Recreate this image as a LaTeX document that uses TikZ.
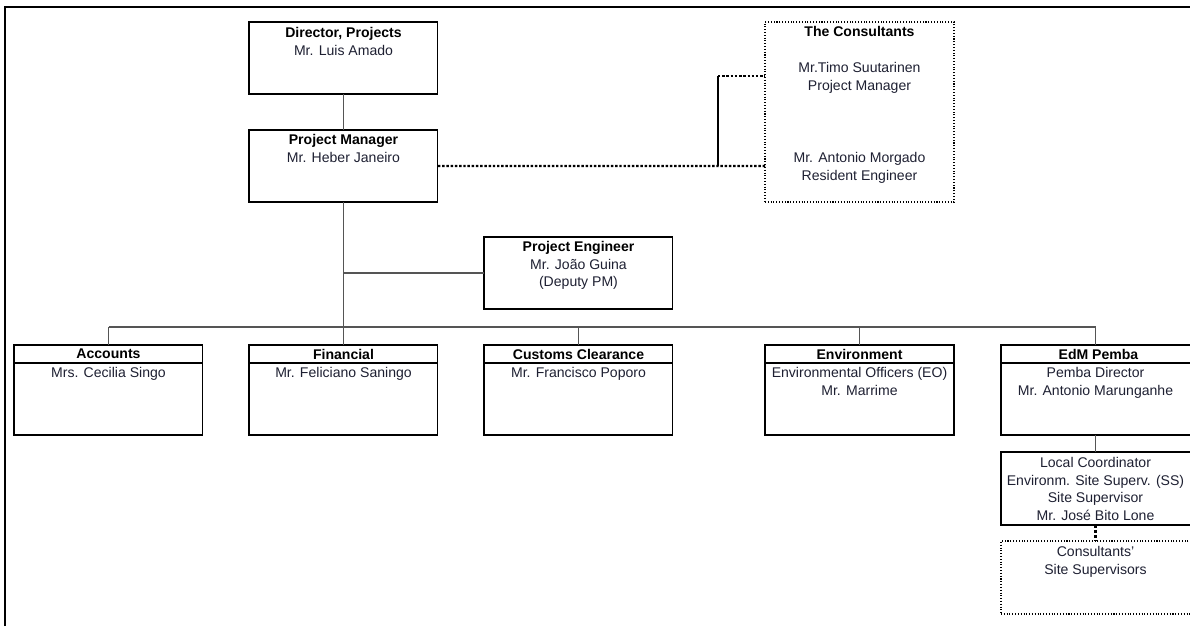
\documentclass[tikz,border=0pt]{standalone}
\usepackage{fontspec}
\setmainfont{Liberation Sans}
\definecolor{namecol}{RGB}{30,32,50}
\definecolor{linkcol}{RGB}{85,85,85}

\begin{document}
\begin{tikzpicture}[x=0.02cm, y=-0.02cm,
    box_style/.style={draw=black, line width=0.6pt, inner sep=0pt, outer sep=0pt,
        minimum width=3.78cm, minimum height=1.44cm},
    head_style/.style={box_style, minimum height=0.36cm,
        font=\fontsize{8}{10}\selectfont\bfseries},
    dotbox_style/.style={box_style, densely dotted, line width=1.4pt},
    text_style/.style={anchor=north, inner sep=0pt, align=center, text=namecol,
        font=\fontsize{8}{10}\selectfont},
    link_style/.style={draw=linkcol, line width=1pt},
    dot_style/.style={draw=black, densely dotted, line width=1.4pt}]

    \useasboundingbox (0,0) rectangle (1190,626);
    \clip (0,0) rectangle (1190,626);
    \draw[line width=1.5pt] (5,626) -- (5,7) -- (1190,7);

    % upper boxes
    \node[box_style, anchor=north west] (dir) at (249,22) {};
    \node[box_style, anchor=north west] (pm) at (249,130) {};
    \node[box_style, anchor=north west] (pe) at (484,237) {};
    \node[dotbox_style, anchor=north west, minimum height=3.6cm] (cons) at (765,22) {};

    \node[text_style] (dir_t) at (343.5,27) {\textcolor{black}{\textbf{Director, Projects}}\\Mr. Luis Amado};
    \node[text_style] (pm_t) at (343.5,134) {\textcolor{black}{\textbf{Project Manager}}\\Mr. Heber Janeiro};
    \node[text_style] (pe_t) at (578.5,241) {\textcolor{black}{\textbf{Project Engineer}}\\Mr. João Guina\\(Deputy PM)};
    \node[text_style] (cons_t) at (859.5,26) {\textcolor{black}{\textbf{The Consultants}}};
    \node[text_style] (timo_t) at (859.5,62) {Mr.Timo Suutarinen\\Project Manager};
    \node[text_style] (anto_t) at (859.5,152) {Mr. Antonio Morgado\\Resident Engineer};

    % lower row
    \node[head_style, anchor=north west] (acc) at (14,345) {Accounts};
    \node[head_style, anchor=north west] (fin) at (249,345) {Financial};
    \node[head_style, anchor=north west] (cus) at (484,345) {Customs Clearance};
    \node[head_style, anchor=north west] (env) at (765,345) {Environment};
    \node[head_style, anchor=north west, minimum width=3.9cm] (edm) at (1001,345) {EdM Pemba};
    \foreach \n in {acc,fin,cus,env}
        \node[box_style, anchor=north] (\n_b) at (\n.south) {};
    \node[box_style, anchor=north, minimum width=3.9cm] (edm_b) at (edm.south) {};

    \node[text_style] (acc_t) at (108.5,367) {Mrs. Cecilia Singo};
    \node[text_style] (fin_t) at (343.5,367) {Mr. Feliciano Saningo};
    \node[text_style] (cus_t) at (578.5,367) {Mr. Francisco Poporo};
    \node[text_style] (env_t) at (859.5,367) {Environmental Officers (EO)\\Mr. Marrime};
    \node[text_style] (edm_t) at (1095.5,367) {Pemba Director\\Mr. Antonio Marunganhe};

    % Pemba column
    \node[box_style, anchor=north west, minimum width=3.9cm, minimum height=1.46cm] (loc) at (1001,452) {};
    \node[dotbox_style, anchor=north west, minimum width=3.9cm, minimum height=1.46cm] (site) at (1001,541) {};
    \node[text_style] (loc_t) at (1095.5,457) {Local Coordinator\\Environm. Site Superv. (SS)\\Site Supervisor\\Mr. José Bito Lone};
    \node[text_style] (site_t) at (1095.5,546) {Consultants'\\Site Supervisors};

    % connectors
    \coordinate (busL) at (108.5,327);
    \coordinate (busR) at (1095.5,327);
    \coordinate (brT) at (718,76);
    \coordinate (brB) at (718,166);
    \draw[link_style] (dir) -- (pm);
    \draw[link_style] (pm.south) -- (pm.south |- busL);
    \draw[link_style] (pe.west) -- (pe.west -| pm.south);
    \draw[link_style] (busL) -- (busR);
    \foreach \n in {acc,fin,cus,env}
        \draw[link_style] (\n.north) -- (\n.north |- busL);
    \draw[link_style] (busR) -- (busR |- edm.north);
    \draw[link_style] (busR |- edm_b.south) -- (busR |- loc.north);
    \draw[dot_style, line width=1.8pt] (busR |- loc.south) -- (busR |- site.north);
    \draw[dot_style] (pm.east) -- (brB) -- (brB -| cons.west);
    \draw[line width=1.6pt] (brB) -- (brT);
    \draw[dot_style] (brT) -- (brT -| cons.west);
\end{tikzpicture}
\end{document}
